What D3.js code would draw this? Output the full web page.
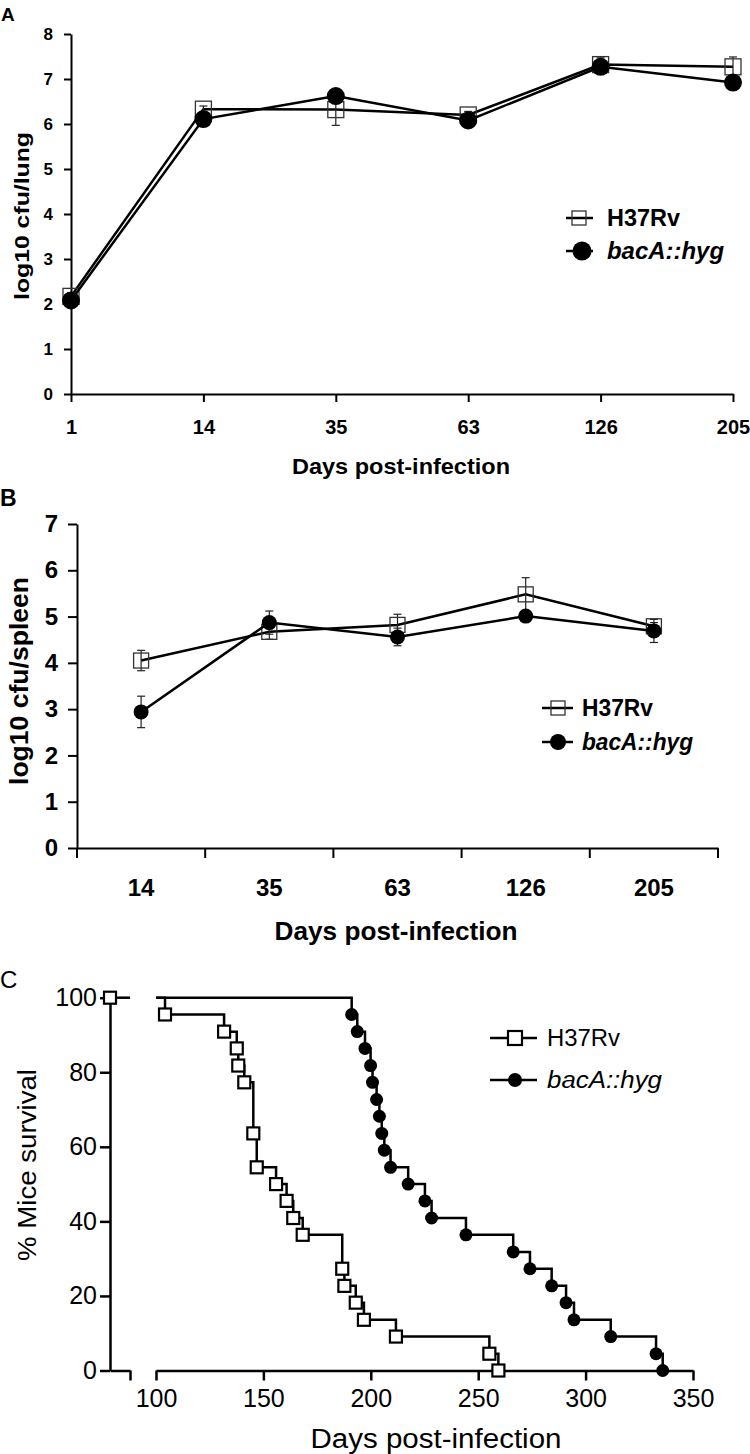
<!DOCTYPE html>
<html>
<head>
<meta charset="utf-8">
<script src="https://cdn.jsdelivr.net/npm/d3@7"></script>
<style>
  html, body { margin: 0; padding: 0; background: #fff; }
  svg { display: block; }
  text { font-family: "Liberation Sans", Arial, Helvetica, sans-serif; fill: #000; }
</style>
</head>
<body>
<script>
// ---------- Panel A: lung ----------
const aDays = ["1", "14", "35", "63", "126", "205"];
const aH37 = [2.17, 6.33, 6.32, 6.20, 7.32, 7.27];
const aH37Err = [0.08, 0.07, 0.35, 0.08, 0.15, 0.22];
const aBac = [2.08, 6.11, 6.62, 6.08, 7.27, 6.92];
const aBacErr = [0.05, 0.08, 0.08, 0.06, 0.06, 0.12];
const aYTicks = [0, 1, 2, 3, 4, 5, 6, 7, 8];

// ---------- Panel B: spleen ----------
const bDays = ["14", "35", "63", "126", "205"];
const bH37 = [4.05, 4.67, 4.82, 5.48, 4.79];
const bH37Err = [0.22, 0.16, 0.23, 0.36, 0.08];
const bBac = [2.94, 4.87, 4.56, 5.01, 4.69];
const bBacErr = [0.34, 0.25, 0.19, 0.10, 0.25];
const bYTicks = [0, 1, 2, 3, 4, 5, 6, 7];

// ---------- Panel C: survival ----------
const cH37Days = [104.2, 131.7, 137.6, 138.3, 141.1, 145.3, 146.9, 155.9, 160.8, 163.9, 168.3, 186.7, 187.7, 193.0, 196.8, 211.7, 255.2, 259.4];
const cH37Surv = [95.5, 90.9, 86.4, 81.8, 77.3, 63.6, 54.5, 50.0, 45.5, 40.9, 36.4, 27.3, 22.7, 18.2, 13.6, 9.1, 4.5, 0];
const cBacDays = [191.1, 193.7, 197.3, 199.9, 200.8, 202.7, 204.0, 205.1, 206.3, 209.2, 217.4, 225.2, 228.3, 244.3, 266.3, 274.1, 284.2, 290.9, 294.6, 311.7, 332.8, 335.9];
const cBacSurv = [95.5, 90.9, 86.4, 81.8, 77.3, 72.7, 68.2, 63.6, 59.1, 54.5, 50.0, 45.5, 40.9, 36.4, 31.8, 27.3, 22.7, 18.2, 13.6, 9.1, 4.5, 0];
const cXTicks = [100, 150, 200, 250, 300, 350];
const cYTicks = [0, 20, 40, 60, 80, 100];
const seriesNames = ["H37Rv", "bacA::hyg"];

const svg = d3.select("body").append("svg").attr("width", 750).attr("height", 1454);

function label(g, x, y, s, o) {
  const t = g.append("text").attr("x", x).attr("y", y).text(s)
    .attr("font-size", o.size).attr("font-weight", o.bold ? "bold" : "normal")
    .attr("font-style", o.italic ? "italic" : "normal")
    .attr("text-anchor", o.anchor || "start");
  if (o.len) t.attr("textLength", o.len).attr("lengthAdjust", "spacingAndGlyphs");
  if (o.rotate) t.attr("transform", `rotate(-90,${x},${y})`);
  return t;
}
function styleAxis(g, sw, fs, bold) {
  g.select(".domain").attr("stroke", "#000").attr("stroke-width", sw);
  g.selectAll(".tick line").attr("stroke", "#000").attr("stroke-width", sw);
  g.selectAll(".tick text").attr("font-size", fs).attr("font-weight", bold ? "bold" : "normal")
    .attr("font-family", '"Liberation Sans", Arial, sans-serif').attr("fill", "#000");
}

// ================= PANEL A =================
{
  const g = svg.append("g");
  const x = d3.scalePoint().domain(aDays).range([71, 733]);
  const y = d3.scaleLinear().domain([0, 8]).range([394, 34]);
  label(g, 1, 21, "A", { size: 19, bold: true });

  const ya = g.append("g").attr("transform", "translate(71,0)")
    .call(d3.axisLeft(y).tickValues(aYTicks).tickSize(7).tickSizeOuter(0).tickPadding(11).tickFormat(d3.format("d")));
  styleAxis(ya, 2, 17, true);
  const xa = g.append("g").attr("transform", "translate(0,394)")
    .call(d3.axisBottom(x).tickSize(8).tickSizeOuter(0).tickPadding(18));
  styleAxis(xa, 2, 20, true);

  label(g, 401, 474, "Days post-infection", { size: 22, bold: true, anchor: "middle", len: 218 });
  label(g, 29, 216, "log10 cfu/lung", { size: 21, bold: true, anchor: "middle", len: 168, rotate: true });

  const line = d3.line().x((d, i) => x(aDays[i])).y(d => y(d));
  function errs(vals, err) {
    vals.forEach((v, i) => {
      const cx = x(aDays[i]);
      g.append("line").attr("x1", cx).attr("x2", cx).attr("y1", y(v - err[i])).attr("y2", y(v + err[i])).attr("stroke", "#222").attr("stroke-width", 1.2);
      [v - err[i], v + err[i]].forEach(e => g.append("line").attr("x1", cx - 4).attr("x2", cx + 4).attr("y1", y(e)).attr("y2", y(e)).attr("stroke", "#222").attr("stroke-width", 1.2));
    });
  }
  // H37Rv
  g.append("path").datum(aH37).attr("d", line).attr("fill", "none").attr("stroke", "#000").attr("stroke-width", 2.5);
  errs(aH37, aH37Err);
  g.selectAll("rect.h").data(aH37).join("rect").attr("x", (d, i) => x(aDays[i]) - 8).attr("y", d => y(d) - 8)
    .attr("width", 16).attr("height", 16).attr("fill", "none").attr("stroke", "#333").attr("stroke-width", 1.3);
  // bacA
  g.append("path").datum(aBac).attr("d", line).attr("fill", "none").attr("stroke", "#000").attr("stroke-width", 2.5);
  errs(aBac, aBacErr);
  g.selectAll("circle.b").data(aBac).join("circle").attr("cx", (d, i) => x(aDays[i])).attr("cy", d => y(d)).attr("r", 9).attr("fill", "#000");

  // legend
  g.append("line").attr("x1", 566).attr("x2", 593).attr("y1", 218).attr("y2", 218).attr("stroke", "#000").attr("stroke-width", 2.5);
  g.append("rect").attr("x", 572).attr("y", 211).attr("width", 14).attr("height", 14).attr("fill", "none").attr("stroke", "#333").attr("stroke-width", 1.3);
  label(g, 607, 226, seriesNames[0], { size: 23, bold: true, len: 73 });
  g.append("line").attr("x1", 566).attr("x2", 593).attr("y1", 251).attr("y2", 251).attr("stroke", "#000").attr("stroke-width", 2.5);
  g.append("circle").attr("cx", 582).attr("cy", 251).attr("r", 9.5).attr("fill", "#000");
  label(g, 607, 259, seriesNames[1], { size: 23, bold: true, italic: true, len: 117 });
}

// ================= PANEL B =================
{
  const g = svg.append("g");
  const x = d3.scaleBand().domain(bDays).range([77, 718]);
  const y = d3.scaleLinear().domain([0, 7]).range([848, 524]);
  const cx = d => x(d) + x.bandwidth() / 2;
  label(g, 0, 506, "B", { size: 23, bold: true });

  const ya = g.append("g").attr("transform", "translate(77,0)")
    .call(d3.axisLeft(y).tickValues(bYTicks).tickSize(9).tickSizeOuter(0).tickPadding(10).tickFormat(d3.format("d")));
  styleAxis(ya, 2, 24, true);
  const xa = g.append("g").attr("transform", "translate(0,848)")
    .call(d3.axisBottom(x).tickSize(0).tickPadding(31));
  styleAxis(xa, 2, 24, true);
  // boundary ticks
  const bounds = bDays.map(d => x(d)).concat([x.range()[1]]);
  g.selectAll("line.bt").data(bounds).join("line").attr("x1", d => d).attr("x2", d => d).attr("y1", 848).attr("y2", 858)
    .attr("stroke", "#000").attr("stroke-width", 2);

  label(g, 396, 940, "Days post-infection", { size: 26, bold: true, anchor: "middle", len: 243 });
  label(g, 28, 681, "log10 cfu/spleen", { size: 25, bold: true, anchor: "middle", len: 208, rotate: true });

  const line = d3.line().x((d, i) => cx(bDays[i])).y(d => y(d));
  function errs(vals, err) {
    vals.forEach((v, i) => {
      const px = cx(bDays[i]);
      g.append("line").attr("x1", px).attr("x2", px).attr("y1", y(v - err[i])).attr("y2", y(v + err[i])).attr("stroke", "#222").attr("stroke-width", 1.2);
      [v - err[i], v + err[i]].forEach(e => g.append("line").attr("x1", px - 4).attr("x2", px + 4).attr("y1", y(e)).attr("y2", y(e)).attr("stroke", "#222").attr("stroke-width", 1.2));
    });
  }
  g.append("path").datum(bH37).attr("d", line).attr("fill", "none").attr("stroke", "#000").attr("stroke-width", 2.5);
  errs(bH37, bH37Err);
  g.selectAll("rect.h").data(bH37).join("rect").attr("x", (d, i) => cx(bDays[i]) - 7.5).attr("y", d => y(d) - 7.5)
    .attr("width", 15).attr("height", 15).attr("fill", "none").attr("stroke", "#333").attr("stroke-width", 1.3);
  g.append("path").datum(bBac).attr("d", line).attr("fill", "none").attr("stroke", "#000").attr("stroke-width", 2.5);
  errs(bBac, bBacErr);
  g.selectAll("circle.b").data(bBac).join("circle").attr("cx", (d, i) => cx(bDays[i])).attr("cy", d => y(d)).attr("r", 7.5).attr("fill", "#000");

  g.append("line").attr("x1", 542).attr("x2", 573).attr("y1", 708).attr("y2", 708).attr("stroke", "#000").attr("stroke-width", 2.5);
  g.append("rect").attr("x", 551).attr("y", 701).attr("width", 14).attr("height", 14).attr("fill", "none").attr("stroke", "#333").attr("stroke-width", 1.3);
  label(g, 582, 716, seriesNames[0], { size: 23, bold: true, len: 71 });
  g.append("line").attr("x1", 542).attr("x2", 573).attr("y1", 742).attr("y2", 742).attr("stroke", "#000").attr("stroke-width", 2.5);
  g.append("circle").attr("cx", 558).attr("cy", 742).attr("r", 8).attr("fill", "#000");
  label(g, 582, 750, seriesNames[1], { size: 23, bold: true, italic: true, len: 111 });
}

// ================= PANEL C =================
{
  const g = svg.append("g");
  const y = d3.scaleLinear().domain([0, 100]).range([1370.5, 997.7]);
  const x1 = d3.scaleLinear().domain([0, 90]).range([110, 130]);   // first (short) axis segment
  const x2 = d3.scaleLinear().domain([100, 350]).range([156, 693]); // main axis segment
  label(g, 0, 988, "C", { size: 24 });

  const ya = g.append("g").attr("transform", "translate(110,0)")
    .call(d3.axisLeft(y).tickValues(cYTicks).tickSize(10).tickSizeOuter(0).tickPadding(3));
  styleAxis(ya, 2.5, 25, false);
  const xa1 = g.append("g").attr("transform", "translate(0,1370.5)")
    .call(d3.axisBottom(x1).tickValues([90]).tickSize(10).tickSizeOuter(0).tickFormat(""));
  styleAxis(xa1, 2.5, 25, false);
  const xa2 = g.append("g").attr("transform", "translate(0,1370.5)")
    .call(d3.axisBottom(x2).tickValues(cXTicks).tickSize(10).tickSizeOuter(0).tickPadding(9));
  styleAxis(xa2, 2.5, 25, false);

  label(g, 436, 1448, "Days post-infection", { size: 27, anchor: "middle", len: 251 });
  label(g, 36, 1165, "% Mice survival", { size: 26, anchor: "middle", len: 192, rotate: true });

  const step = d3.line().x(d => x2(d[0])).y(d => y(d[1])).curve(d3.curveStepAfter);
  // first segment: both groups at 100%
  g.append("line").attr("x1", x1(0)).attr("x2", x1(90)).attr("y1", y(100)).attr("y2", y(100)).attr("stroke", "#000").attr("stroke-width", 2.5);
  const bacPts = [[100, 100]].concat(cBacDays.map((d, i) => [d, cBacSurv[i]]));
  const h37Pts = [[100, 100]].concat(cH37Days.map((d, i) => [d, cH37Surv[i]]));
  g.append("path").attr("d", step(bacPts)).attr("fill", "none").attr("stroke", "#000").attr("stroke-width", 2.5);
  g.append("path").attr("d", step(h37Pts)).attr("fill", "none").attr("stroke", "#000").attr("stroke-width", 2.5);

  g.selectAll("circle.b").data(cBacDays).join("circle").attr("cx", d => x2(d)).attr("cy", (d, i) => y(cBacSurv[i])).attr("r", 6.5).attr("fill", "#000");
  g.append("circle").attr("cx", x1(0)).attr("cy", y(100)).attr("r", 6.5).attr("fill", "#000");
  g.selectAll("rect.h").data(cH37Days).join("rect").attr("x", d => x2(d) - 6).attr("y", (d, i) => y(cH37Surv[i]) - 6)
    .attr("width", 12).attr("height", 12).attr("fill", "#fff").attr("stroke", "#000").attr("stroke-width", 2.2);
  g.append("rect").attr("x", x1(0) - 6).attr("y", y(100) - 6).attr("width", 12).attr("height", 12).attr("fill", "#fff").attr("stroke", "#000").attr("stroke-width", 2.2);

  // legend
  g.append("line").attr("x1", 490).attr("x2", 537).attr("y1", 1038).attr("y2", 1038).attr("stroke", "#000").attr("stroke-width", 2.5);
  g.append("rect").attr("x", 508).attr("y", 1031).attr("width", 14).attr("height", 14).attr("fill", "#fff").attr("stroke", "#000").attr("stroke-width", 2.2);
  label(g, 547, 1046, seriesNames[0], { size: 23, len: 73 });
  g.append("line").attr("x1", 490).attr("x2", 537).attr("y1", 1080).attr("y2", 1080).attr("stroke", "#000").attr("stroke-width", 2.5);
  g.append("circle").attr("cx", 515).attr("cy", 1080).attr("r", 7).attr("fill", "#000");
  label(g, 547, 1088, seriesNames[1], { size: 23, italic: true, len: 115 });
}
</script>
</body>
</html>
